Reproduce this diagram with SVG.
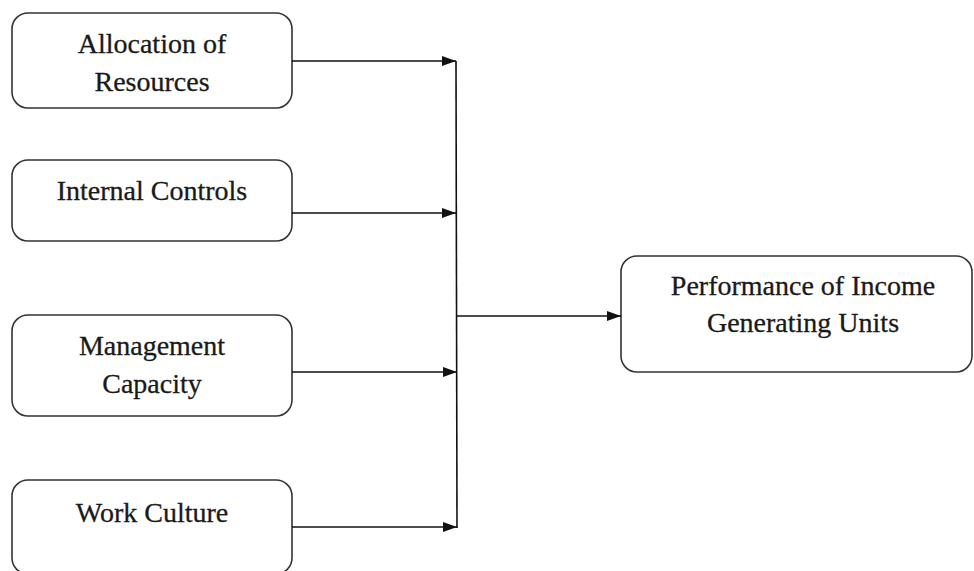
<svg xmlns="http://www.w3.org/2000/svg" width="974" height="571" viewBox="0 0 974 571">
<style>
.box{fill:#fff;stroke:#333;stroke-width:1.6}
.t{font-family:"Liberation Serif","Times New Roman",serif;font-size:28px;fill:#1a1a1a;text-anchor:middle;stroke:#1a1a1a;stroke-width:0.3}
.c{stroke:#111;stroke-width:1.6;fill:none}
</style>
<defs>
<marker id="ah" markerWidth="14" markerHeight="10" refX="14" refY="5" orient="auto" markerUnits="userSpaceOnUse">
<path d="M0,0 L14,5 L0,10 Z" fill="#111"/>
</marker>
</defs>
<rect width="974" height="571" fill="#fff"/>
<g id="n1"><rect class="box" x="12" y="13" width="280" height="95" rx="16"/><text class="t" x="152" y="53">Allocation of</text><text class="t" x="152" y="91">Resources</text></g>
<g id="n2"><rect class="box" x="12" y="160" width="280" height="81" rx="16"/><text class="t" x="152" y="200">Internal Controls</text></g>
<g id="n3"><rect class="box" x="12" y="315" width="280" height="101" rx="16"/><text class="t" x="152" y="355">Management</text><text class="t" x="152" y="393">Capacity</text></g>
<g id="n4"><rect class="box" x="12" y="480" width="280" height="94" rx="16"/><text class="t" x="152" y="522">Work Culture</text></g>
<g id="n5"><rect class="box" x="621" y="256" width="351" height="116" rx="16"/><text class="t" x="803" y="295">Performance of Income</text><text class="t" x="803" y="332">Generating Units</text></g>
<g id="connectors">
<line class="c" x1="456" y1="61" x2="457" y2="528"/>
<line class="c" x1="292" y1="61" x2="456" y2="61" marker-end="url(#ah)"/>
<line class="c" x1="292" y1="213" x2="456" y2="213" marker-end="url(#ah)"/>
<line class="c" x1="292" y1="372" x2="457" y2="372" marker-end="url(#ah)"/>
<line class="c" x1="292" y1="527" x2="457" y2="527" marker-end="url(#ah)"/>
<line class="c" x1="456" y1="316" x2="621" y2="316" marker-end="url(#ah)"/>
</g>
</svg>
